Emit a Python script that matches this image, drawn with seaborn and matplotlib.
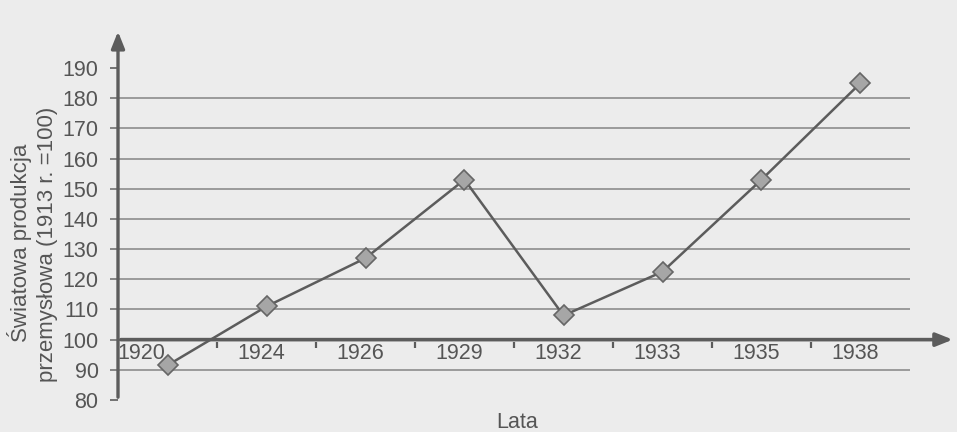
import matplotlib
matplotlib.use('Agg')
import matplotlib.pyplot as plt
import seaborn as sns

# dane
lata = ["1920", "1924", "1926", "1929", "1932", "1933", "1935", "1938"]
produkcja = [91.5, 111, 127, 153, 108, 122.5, 153, 185]
y_ticks = [80, 90, 100, 110, 120, 130, 140, 150, 160, 170, 180, 190]
siatka = [90, 100, 110, 120, 130, 140, 150, 160, 170, 180]

sns.set_style("white")
plt.rcParams['font.family'] = ['Liberation Sans', 'DejaVu Sans']

tlo = "#ececec"
szary = "#5c5c5c"
tekst = "#555555"

fig = plt.figure(figsize=(9.57, 4.32), dpi=100, facecolor=tlo)
ax = fig.add_axes([118 / 957, 1 - 400 / 432, 792 / 957, 332 / 432])
ax.set_facecolor(tlo)

# linie siatki (bez 80 i 190)
ax.hlines(siatka, -0.58, len(lata) - 0.5, colors="#8c8c8c", linewidth=1.2, clip_on=False, zorder=1)

sns.lineplot(x=lata, y=produkcja, sort=False, ax=ax, color=szary, linewidth=1.8,
             marker="D", markersize=10, markerfacecolor="#a6a6a6",
             markeredgecolor="#666666", markeredgewidth=1.2, zorder=4)

ax.set_xlim(-0.5, len(lata) - 0.5)
ax.set_ylim(80, 190)

for s in ["top", "right", "bottom", "left"]:
    ax.spines[s].set_visible(False)

# osie ze strzałkami
ax.annotate("", xy=(-0.5, 203), xytext=(-0.5, 80), xycoords="data",
            arrowprops=dict(arrowstyle="-|>,head_length=1.0,head_width=0.4", color=szary, lw=2.4),
            annotation_clip=False)
ax.annotate("", xy=(7.96, 100), xytext=(-0.5, 100), xycoords="data",
            arrowprops=dict(arrowstyle="-|>,head_length=1.0,head_width=0.4", color=szary, lw=2.6),
            annotation_clip=False, zorder=3)

# znaczniki między latami
granice = [i + 0.5 for i in range(len(lata) - 1)]
ax.vlines(granice, 97.3, 99.2, colors=szary, linewidth=1.6)

# podpisy lat
for i, rok in enumerate(lata):
    x = i - 0.05 if i > 0 else -0.26
    ax.text(x, 95.4, rok, ha="center", va="center", fontsize=15.5, color=tekst)

ax.set_xticks([])
ax.set_yticks(y_ticks)
ax.tick_params(axis="y", direction="out", length=6, width=1.2, color=szary,
               labelsize=15.5, labelcolor=tekst, pad=8, left=True)
ax.set_xlabel("")
ax.set_ylabel("")

fig.text(517 / 957, 1 - 423 / 432, "Lata", ha="center", va="center", fontsize=15.5, color=tekst)
fig.text(20 / 957, 1 - 243 / 432, "Światowa produkcja", rotation=90,
         ha="center", va="center", fontsize=16, color=tekst)
fig.text(48 / 957, 1 - 244 / 432, "przemysłowa (1913 r. =100)", rotation=90,
         ha="center", va="center", fontsize=16, color=tekst)

fig.savefig("out.png", dpi=100, facecolor=tlo)
